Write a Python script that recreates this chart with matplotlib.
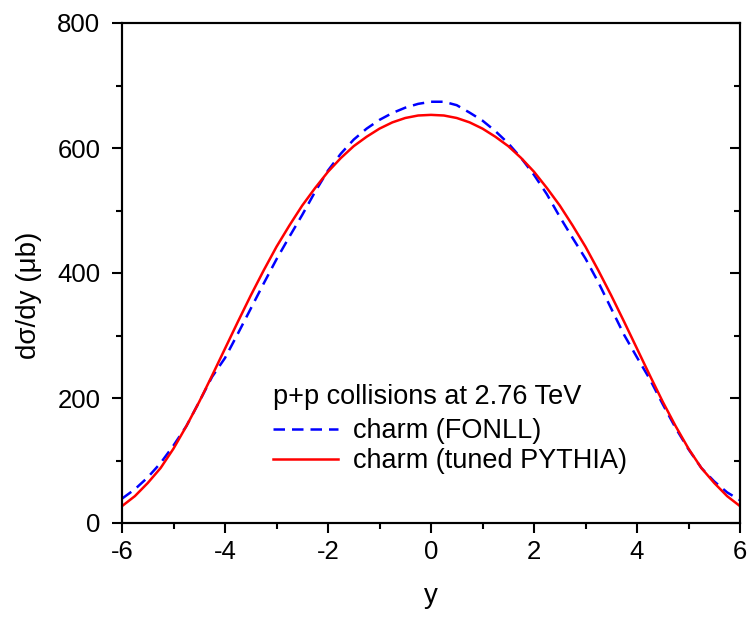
import numpy as np
import matplotlib
matplotlib.use("Agg")
import matplotlib.pyplot as plt

plt.rcParams['font.family'] = ['Liberation Sans', 'DejaVu Sans']
plt.rcParams['axes.unicode_minus'] = False

# rapidity grid
y_vals = [-6.0, -5.75, -5.5, -5.25, -5.0, -4.75, -4.5, -4.25, -4.0, -3.75, -3.5, -3.25,
          -3.0, -2.75, -2.5, -2.25, -2.0, -1.75, -1.5, -1.25, -1.0, -0.75, -0.5, -0.25,
          0.0, 0.25, 0.5, 0.75, 1.0, 1.25, 1.5, 1.75, 2.0, 2.25, 2.5, 2.75, 3.0, 3.25,
          3.5, 3.75, 4.0, 4.25, 4.5, 4.75, 5.0, 5.25, 5.5, 5.75, 6.0]

# charm (FONLL), dsigma/dy in microbarn
fonll = [39, 54, 73, 96, 124, 155, 194, 234, 264, 303, 343, 383,
         422, 458, 493, 530, 564, 591, 613.5, 631, 645, 656, 664.5, 670.6,
         674, 674, 668.5, 656.6, 643.8, 627, 607.5, 584, 557, 526, 490, 456, 423, 385,
         343, 301, 265, 230, 190, 152, 118, 88, 66.5, 49, 36.5]

# charm (tuned PYTHIA)
pythia = [27, 43, 64, 88, 119, 155, 194, 236, 279, 322, 364, 404,
          442, 476, 508, 536, 562, 584, 603, 618, 631, 641, 648, 652,
          653, 652, 648, 641, 631, 618, 603, 584, 562, 536, 508, 476, 442, 404,
          364, 322, 279, 236, 194, 155, 119, 88, 64, 43, 27]

legend_title = "p+p collisions at 2.76 TeV"
labels = ["charm (FONLL)", "charm (tuned PYTHIA)"]

W, H = 747, 619
fig = plt.figure(figsize=(W / 100, H / 100), dpi=100)
ax = fig.add_axes([122 / W, (H - 523) / H, (740 - 122) / W, (523 - 23) / H])

lw = 1.8
l1, = ax.plot(y_vals, fonll, color='#0000ff', lw=lw, dashes=[4.6, 2.8], label=labels[0])
l2, = ax.plot(y_vals, pythia, color='#ff0000', lw=lw, label=labels[1])

ax.set_xlim(-6, 6)
ax.set_ylim(0, 800)
ax.set_xticks(np.arange(-6, 7, 2))
ax.set_xticks(np.arange(-5, 6, 2), minor=True)
ax.set_yticks(np.arange(0, 801, 200))
ax.set_yticks(np.arange(100, 800, 200), minor=True)

spw = 1.5
for s in ax.spines.values():
    s.set_linewidth(spw)

ax.tick_params(axis='both', which='major', direction='out', length=7.2, width=spw,
               labelsize=18.5, top=False, right=False)
ax.tick_params(axis='both', which='minor', direction='out', length=4.3, width=spw,
               top=False, right=False)
ax.tick_params(axis='x', which='major', pad=5.0)
ax.tick_params(axis='y', which='major', pad=8.3)

ax2 = ax.twinx()
ax2.set_ylim(0, 800)
ax2.set_yticks(np.arange(0, 801, 200))
ax2.set_yticks(np.arange(100, 800, 200), minor=True)
ax2.tick_params(axis='y', which='major', direction='in', length=7.2, width=spw, labelright=False)
ax2.tick_params(axis='y', which='minor', direction='in', length=4.3, width=spw, labelright=False)
for s in ax2.spines.values():
    s.set_linewidth(spw)

ax.set_xlabel("y", fontsize=20, labelpad=14)
fig.text(29 / W, 1 - 295 / H, "dσ/dy (μb)", rotation=90, ha='center', va='center', fontsize=20)

leg = ax.legend(handles=[l1, l2], title=legend_title, alignment='left', frameon=False,
                fontsize=19.5, title_fontsize=19.5, loc='upper left',
                bbox_to_anchor=((273 - 122) / 618, (523 - 384) / 500),
                borderaxespad=0, borderpad=0, handlelength=2.4, handletextpad=0.55,
                labelspacing=0.15)
leg._legend_box.sep = 6

fig.savefig("out.png", dpi=100)
